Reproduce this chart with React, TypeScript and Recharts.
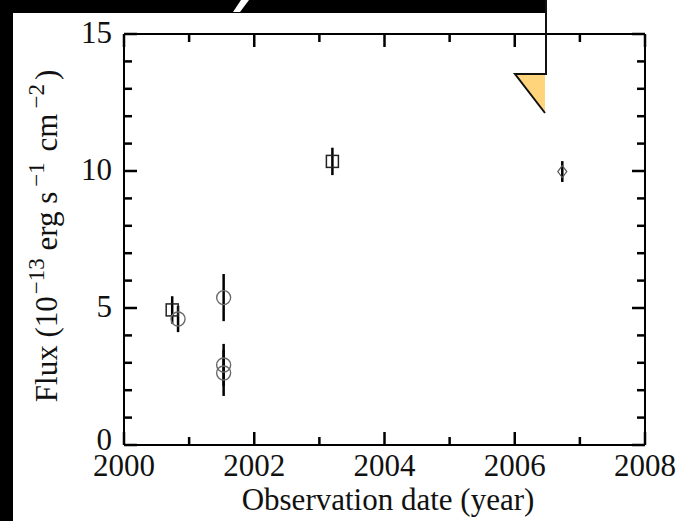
import { ScatterChart, Scatter, XAxis, YAxis, ErrorBar } from 'recharts';

const xTicks = [2000, 2001, 2002, 2003, 2004, 2005, 2006, 2007, 2008];
const yTicks = [0, 1, 2, 3, 4, 5, 6, 7, 8, 9, 10, 11, 12, 13, 14, 15];

const squareYears = [2000.74, 2003.2];
const squareFlux = [4.93, 10.35];
const squareErr = [0.5, 0.5];

const circleYears = [2000.83, 2001.53, 2001.53, 2001.53];
const circleFlux = [4.6, 5.38, 2.92, 2.63];
const circleErr = [0.48, 0.86, 0.77, 0.84];

const diamondYears = [2006.73];
const diamondFlux = [9.98];
const diamondErr = [0.38];

const toRows = (xs: number[], ys: number[], es: number[]) =>
  xs.map((x, i) => ({ year: x, flux: ys[i], err: es[i] }));

const squareData = toRows(squareYears, squareFlux, squareErr);
const circleData = toRows(circleYears, circleFlux, circleErr);
const diamondData = toRows(diamondYears, diamondFlux, diamondErr);

const FONT = '"Liberation Serif", "Times New Roman", serif';
const FS = 31;
const MAJOR = 13;
const MINOR = 8;
const TICK = '#000';

const BottomTick = ({ x, y, payload }: any) => {
  const major = payload.value % 2 === 0;
  return (
    <g>
      <line x1={x} y1={y} x2={x} y2={y - (major ? MAJOR : MINOR)} stroke={TICK} strokeWidth={2.5} />
      {major && (
        <text x={x} y={y + 31} textAnchor="middle" fontFamily={FONT} fontSize={FS} fill="#111">
          {payload.value}
        </text>
      )}
    </g>
  );
};

const TopTick = ({ x, y, payload }: any) => {
  const major = payload.value % 2 === 0;
  return (
    <g>
      <line x1={x} y1={y} x2={x} y2={y + (major ? MAJOR : MINOR)} stroke={TICK} strokeWidth={2.5} />
    </g>
  );
};

const LeftTick = ({ x, y, payload }: any) => {
  const major = payload.value % 5 === 0;
  return (
    <g>
      <line x1={x} y1={y} x2={x + (major ? MAJOR : MINOR)} y2={y} stroke={TICK} strokeWidth={2.5} />
      {major && (
        <text x={x - 12} y={y + (payload.value === 0 ? 5 : 9)} textAnchor="end" fontFamily={FONT} fontSize={FS} fill="#111">
          {payload.value}
        </text>
      )}
    </g>
  );
};

const RightTick = ({ x, y, payload }: any) => {
  const major = payload.value % 5 === 0;
  return (
    <g>
      <line x1={x} y1={y} x2={x - (major ? MAJOR : MINOR)} y2={y} stroke={TICK} strokeWidth={2.5} />
    </g>
  );
};

const SquareMark = ({ cx, cy }: any) => (
  <rect x={cx - 6} y={cy - 6} width={12} height={12} fill="none" stroke="#222" strokeWidth={1.5} />
);

const CircleMark = ({ cx, cy }: any) => (
  <circle cx={cx} cy={cy} r={7} fill="none" stroke="#6a6a6a" strokeWidth={1.4} />
);

const DiamondMark = ({ cx, cy }: any) => (
  <path
    d={`M${cx},${cy - 6} L${cx + 4.5},${cy} L${cx},${cy + 6} L${cx - 4.5},${cy} Z`}
    fill="none"
    stroke="#555"
    strokeWidth={1.2}
  />
);

const NoMark = () => <g />;

const YTitle = () => (
  <text
    x={57}
    y={236}
    transform="rotate(-90, 57, 236)"
    textAnchor="middle"
    fontFamily={FONT}
    fontSize={FS}
    fill="#111"
  >
    Flux (10
    <tspan fontSize={23} dx={2} dy={-13}>−13</tspan>
    <tspan dy={13}> erg s</tspan>
    <tspan fontSize={23} dx={5} dy={-13}>−1</tspan>
    <tspan dx={3} dy={13}> cm</tspan>
    <tspan fontSize={23} dx={5} dy={-13}>−2</tspan>
    <tspan dx={4} dy={13}>)</tspan>
  </text>
);

const XTitle = () => (
  <text x={388} y={510} textAnchor="middle" fontFamily={FONT} fontSize={FS} fill="#111">
    Observation date (year)
  </text>
);

export default function App() {
  return (
    <div style={{ position: 'absolute', left: 0, top: 0, width: 678, height: 521, background: '#fff' }}>
      <ScatterChart width={678} height={521} margin={{ top: 0, right: 0, bottom: 0, left: 0 }}>
        <XAxis
          type="number"
          dataKey="year"
          domain={[2000, 2008]}
          ticks={xTicks}
          interval={0}
          height={76}
          tickSize={0}
          tickMargin={0}
          tickLine={false}
          axisLine={{ stroke: '#000', strokeWidth: 2 }}
          tick={<BottomTick />}
          label={<XTitle />}
        />
        <XAxis
          xAxisId="top"
          orientation="top"
          type="number"
          dataKey="year"
          domain={[2000, 2008]}
          ticks={xTicks}
          interval={0}
          height={34}
          tickSize={0}
          tickMargin={0}
          tickLine={false}
          axisLine={{ stroke: '#000', strokeWidth: 2 }}
          tick={<TopTick />}
        />
        <YAxis
          type="number"
          dataKey="flux"
          domain={[0, 15]}
          ticks={yTicks}
          interval={0}
          width={124}
          tickSize={0}
          tickMargin={0}
          tickLine={false}
          axisLine={{ stroke: '#000', strokeWidth: 2 }}
          tick={<LeftTick />}
          label={<YTitle />}
        />
        <YAxis
          yAxisId="right"
          orientation="right"
          type="number"
          dataKey="flux"
          domain={[0, 15]}
          ticks={yTicks}
          interval={0}
          width={33}
          tickSize={0}
          tickMargin={0}
          tickLine={false}
          axisLine={{ stroke: '#000', strokeWidth: 2 }}
          tick={<RightTick />}
        />
        <Scatter data={squareData} shape={<SquareMark />} isAnimationActive={false}>
          <ErrorBar dataKey="err" direction="y" width={0} stroke="#000" strokeWidth={2.5} isAnimationActive={false} />
        </Scatter>
        <Scatter data={circleData} shape={<CircleMark />} isAnimationActive={false}>
          <ErrorBar dataKey="err" direction="y" width={0} stroke="#000" strokeWidth={2.5} isAnimationActive={false} />
        </Scatter>
        <Scatter data={diamondData} shape={<DiamondMark />} isAnimationActive={false}>
          <ErrorBar dataKey="err" direction="y" width={0} stroke="#000" strokeWidth={2.5} isAnimationActive={false} />
        </Scatter>
        <Scatter xAxisId="top" yAxisId="right" data={diamondData} shape={<NoMark />} isAnimationActive={false} />
      </ScatterChart>
      <svg
        width={678}
        height={521}
        style={{ position: 'absolute', left: 0, top: 0, pointerEvents: 'none' }}
      >
        <rect x={0} y={0} width={545} height={13} fill="#000" />
        <rect x={0} y={0} width={13} height={521} fill="#000" />
        {/* descender of the cropped title above */}
        <polygon points="241,0 249,0 240,12 233,12" fill="#fff" />
        <polygon points="515,74 545,74 545,113" fill="#FFD47A" />
        <polyline points="546,0 546,74 515,74 545,113" fill="none" stroke="#111" strokeWidth={2} />
      </svg>
    </div>
  );
}
